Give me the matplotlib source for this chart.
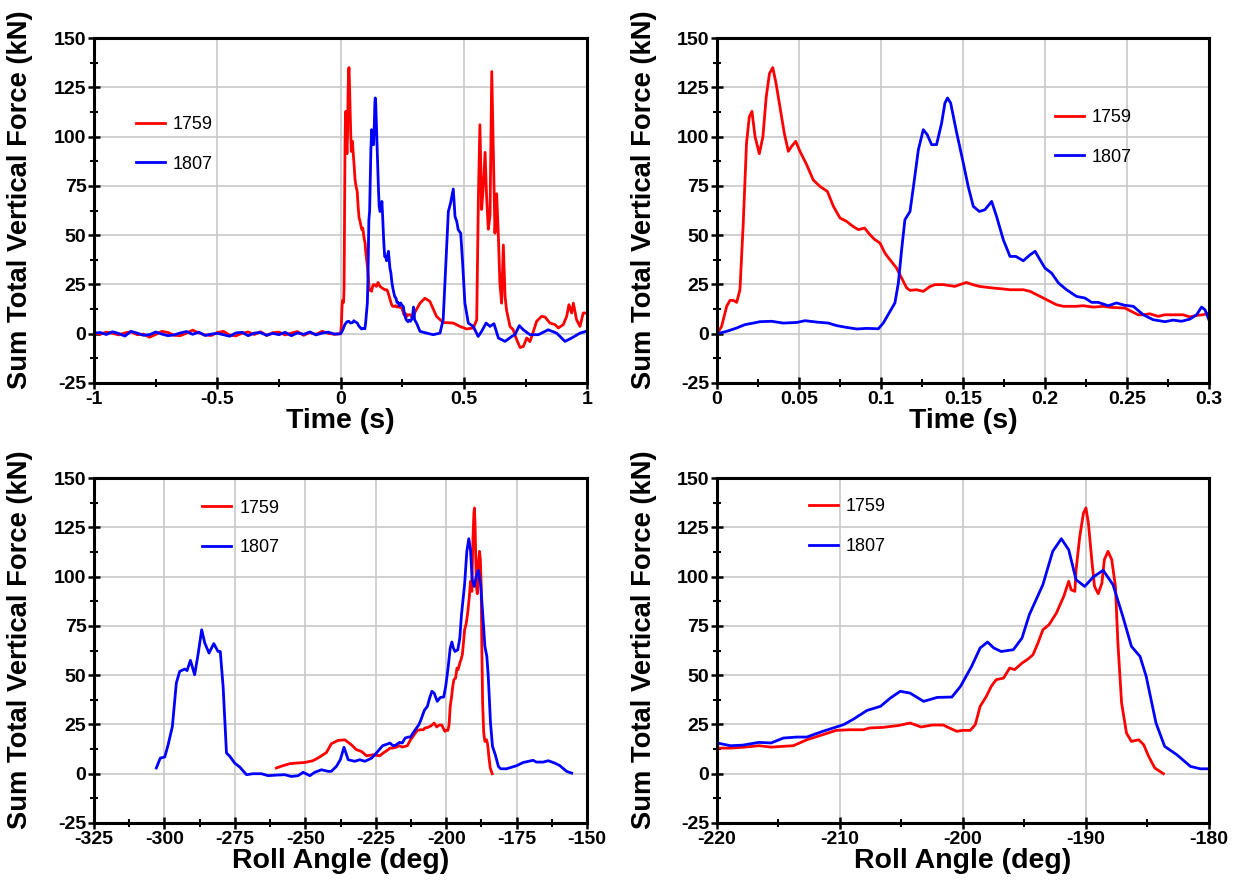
import matplotlib
matplotlib.use("Agg")
import matplotlib.pyplot as plt
from matplotlib.ticker import MultipleLocator

plt.rcParams['font.family'] = ['Liberation Sans', 'DejaVu Sans']
plt.rcParams['font.weight'] = 'bold'
plt.rcParams['axes.unicode_minus'] = False

# ---- time history, pre-trigger noise (-1 .. 0 s) ----
t_pre = [-1.0, -0.975, -0.95, -0.925, -0.9, -0.875, -0.85, -0.825, -0.8, -0.775,
         -0.75, -0.725, -0.7, -0.675, -0.65, -0.625, -0.6, -0.575, -0.55, -0.525,
         -0.5, -0.475, -0.45, -0.425, -0.4, -0.375, -0.35, -0.325, -0.3, -0.275,
         -0.25, -0.225, -0.2, -0.175, -0.15, -0.125, -0.1, -0.075, -0.05, -0.025, 0.0]
f1759_pre = [0.5, -0.3, 0.8, 0.2, -0.6, 0.4, 1.0, -0.5, -0.2, -1.8,
             -0.4, 1.2, 0.6, -0.8, -1.0, 0.3, 1.8, 0.4, -0.6, -0.9,
             0.6, 1.2, -0.7, -1.1, 0.2, 0.9, -0.4, 1.0, -0.9, 0.5,
             0.8, -0.6, 0.3, 1.1, -0.8, 0.6, -0.4, 1.2, 0.2, -0.3, 0.0]
f1807_pre = [0.3, 0.6, -0.4, 1.0, 0.1, -1.2, 1.2, 0.3, -0.8, -0.5,
             0.9, -0.2, -1.0, -0.6, 0.4, 1.1, -0.3, 0.8, -0.9, -0.2,
             0.2, -0.5, -1.3, 0.4, 0.7, -1.0, 0.3, 0.6, -0.8, 0.2,
             -0.5, 0.7, -1.0, 0.4, -0.3, 0.9, -0.6, 0.3, 0.8, -0.2, 0.0]

# ---- time history 0 .. 0.3 s (detail window) ----
t_1759 = [0.0, 0.0028, 0.0059, 0.0079, 0.010, 0.012, 0.014, 0.016, 0.018, 0.0197,
          0.0213, 0.0232, 0.0258, 0.028, 0.030, 0.032, 0.034, 0.036, 0.038, 0.041,
          0.0435, 0.0455, 0.048, 0.0506, 0.0547, 0.0587, 0.0628, 0.0673, 0.071, 0.075,
          0.079, 0.083, 0.0862, 0.090, 0.0933, 0.0963, 0.0994, 0.1024, 0.1055, 0.1095,
          0.1126, 0.1157, 0.1177, 0.1217, 0.1258, 0.130, 0.133, 0.138, 0.145, 0.152,
          0.156, 0.160, 0.168, 0.1745, 0.1787, 0.1868, 0.1909, 0.195, 0.199, 0.203,
          0.207, 0.2112, 0.219, 0.2233, 0.2295, 0.2356, 0.2396, 0.2488, 0.2528, 0.2569,
          0.260, 0.264, 0.269, 0.273, 0.280, 0.2843, 0.2884, 0.2925, 0.2965, 0.300]
f_1759 = [0.0, 3.7, 13.9, 16.9, 16.9, 15.9, 22.3, 56.0, 96.7, 110.0,
          112.8, 100.0, 91.3, 100.0, 120.0, 132.0, 135.0, 127.0, 117.0, 101.8,
          92.5, 95.0, 97.6, 92.5, 85.7, 78.0, 74.7, 72.2, 64.6, 58.7,
          57.0, 54.4, 52.8, 53.6, 50.2, 47.7, 46.0, 40.9, 37.5, 33.3,
          28.2, 23.2, 22.0, 22.3, 21.5, 24.0, 24.9, 24.9, 24.0, 26.0,
          24.9, 24.0, 23.2, 22.7, 22.3, 22.3, 21.5, 19.8, 18.1, 16.4,
          14.7, 13.9, 13.9, 14.2, 13.5, 13.9, 13.4, 13.0, 11.3, 9.6,
          9.6, 10.1, 8.8, 9.6, 9.6, 9.6, 8.5, 9.3, 9.6, 10.5]

t_1807 = [0.0, 0.0059, 0.012, 0.017, 0.0222, 0.0262, 0.0333, 0.0404, 0.0486, 0.0537,
          0.0608, 0.0679, 0.073, 0.079, 0.0852, 0.0913, 0.0984, 0.1014, 0.1055, 0.1085,
          0.1106, 0.1126, 0.1146, 0.1177, 0.1201, 0.1228, 0.1258, 0.1282, 0.1309, 0.1339,
          0.137, 0.139, 0.1406, 0.1425, 0.146, 0.1502, 0.1532, 0.1563, 0.160, 0.1634,
          0.1675, 0.1705, 0.1746, 0.1787, 0.1823, 0.1868, 0.1909, 0.194, 0.197, 0.200,
          0.204, 0.2083, 0.2132, 0.2193, 0.2244, 0.2285, 0.2325, 0.2386, 0.2437, 0.2488,
          0.2539, 0.260, 0.266, 0.2732, 0.2782, 0.2833, 0.2884, 0.2925, 0.2955, 0.2976, 0.300]
f_1807 = [0.0, 1.2, 2.9, 4.6, 5.4, 6.1, 6.3, 5.4, 5.7, 6.6,
          5.9, 5.4, 4.1, 3.2, 2.4, 2.7, 2.5, 5.4, 11.3, 15.6,
          25.7, 42.6, 57.8, 62.0, 76.4, 93.3, 103.5, 101.0, 95.9, 95.9,
          106.9, 117.0, 119.6, 117.0, 102.6, 86.6, 74.7, 64.6, 62.0, 62.9,
          67.1, 59.5, 47.7, 39.2, 39.2, 37.0, 40.0, 41.8, 37.5, 33.3,
          30.8, 25.7, 22.3, 18.9, 18.1, 15.9, 15.9, 14.2, 15.6, 14.4,
          13.9, 9.6, 7.1, 6.1, 6.9, 6.3, 7.4, 9.6, 13.5, 12.2, 7.1]

# ---- time history after 0.3 s ----
t_1759_post = [0.302, 0.322, 0.342, 0.362, 0.389, 0.416, 0.457, 0.484, 0.511, 0.538,
               0.552, 0.559, 0.565, 0.572, 0.579, 0.586, 0.592, 0.599, 0.606, 0.613,
               0.619, 0.626, 0.633, 0.640, 0.646, 0.653, 0.660, 0.667, 0.673, 0.687,
               0.700, 0.714, 0.728, 0.741, 0.755, 0.768, 0.782, 0.795, 0.815, 0.829,
               0.849, 0.870, 0.883, 0.903, 0.917, 0.926, 0.937, 0.944, 0.957, 0.971,
               0.984, 0.995]
f_1759_post = [11.0, 15.5, 18.0, 16.4, 8.8, 5.7, 5.4, 3.7, 2.4, 2.9,
               7.0, 70.0, 106.0, 63.0, 75.0, 92.0, 70.0, 53.0, 60.0, 133.0,
               95.0, 51.0, 71.0, 49.0, 25.7, 15.5, 45.0, 19.0, 12.0, 3.7,
               2.0, -3.0, -7.0, -6.5, -2.2, -4.0, 1.2, 6.3, 8.8, 8.5,
               5.4, 4.6, 2.9, 4.6, 8.8, 14.7, 10.5, 15.5, 7.1, 3.7,
               10.5, 10.5]
t_1807_post = [0.308, 0.322, 0.349, 0.376, 0.403, 0.416, 0.427, 0.437, 0.446, 0.457,
               0.464, 0.471, 0.477, 0.487, 0.495, 0.504, 0.518, 0.538, 0.558, 0.572,
               0.590, 0.606, 0.622, 0.640, 0.667, 0.694, 0.707, 0.725, 0.741, 0.768,
               0.802, 0.842, 0.876, 0.910, 0.937, 0.971, 0.995]
f_1807_post = [5.4, 1.2, 0.3, -0.5, 0.3, 7.1, 35.9, 62.0, 66.3, 73.4,
               59.5, 57.0, 52.8, 51.0, 35.9, 15.6, 5.4, 3.7, -1.4, 1.2,
               5.4, 3.7, 5.1, -2.2, -3.9, -1.4, -0.5, 4.1, 2.0, -0.5,
               -0.5, 2.0, 0.3, -3.9, -2.2, 0.3, 1.2]

# ---- roll angle, detail window -220 .. -180 deg ----
a_1759 = [-220.0, -218.9, -217.9, -216.6, -215.6, -214.6, -213.8, -212.7, -211.4, -210.3,
          -209.2, -208.1, -207.6, -206.5, -205.3, -204.3, -203.4, -202.5, -201.6, -201.1,
          -200.5, -200.0, -199.4, -199.0, -198.6, -198.1, -197.7, -197.3, -196.7, -196.2,
          -195.8, -195.2, -194.7, -194.3, -193.9, -193.5, -193.0, -192.4, -191.8, -191.4,
          -191.2, -190.9, -190.8, -190.5, -190.2, -190.0, -189.8, -189.5, -189.3, -189.0,
          -188.7, -188.5, -188.2, -187.9, -187.6, -187.4, -187.1, -186.7, -186.3, -185.7,
          -185.3, -184.9, -184.4, -183.7]
fa_1759 = [13.0, 13.0, 13.4, 14.2, 13.5, 13.9, 14.2, 17.2, 19.8, 22.0,
           22.3, 22.3, 23.2, 23.5, 24.4, 25.7, 23.7, 24.7, 24.7, 23.2,
           21.5, 22.0, 22.0, 24.9, 34.2, 39.2, 44.3, 47.7, 48.5, 53.6,
           52.8, 56.1, 58.2, 60.4, 66.3, 73.0, 75.6, 81.5, 90.0, 97.6,
           93.3, 92.5, 103.5, 120.4, 132.2, 134.8, 127.2, 106.9, 95.0, 91.3,
           96.7, 108.6, 112.8, 108.6, 95.0, 66.3, 35.9, 20.6, 16.4, 17.2,
           14.7, 8.8, 2.9, 0.0]

a_1807 = [-220.0, -218.9, -217.9, -216.6, -215.6, -214.6, -213.5, -212.7, -211.4, -209.7,
          -208.9, -207.8, -206.7, -205.9, -205.1, -204.3, -203.2, -202.1, -200.9, -200.2,
          -199.3, -198.6, -198.0, -197.5, -196.9, -195.9, -195.2, -194.6, -193.5, -192.7,
          -192.0, -191.4, -190.8, -190.1, -189.4, -188.6, -187.8, -187.0, -186.3, -185.6,
          -185.1, -184.3, -183.6, -182.6, -181.5, -180.7, -180.0]
fa_1807 = [15.6, 14.2, 14.5, 15.9, 15.6, 18.1, 18.6, 18.6, 21.5, 24.9,
           27.7, 32.1, 34.2, 38.4, 41.8, 40.9, 36.7, 38.7, 38.9, 44.3,
           54.4, 63.8, 66.8, 63.8, 62.0, 62.9, 68.8, 80.7, 95.9, 112.8,
           119.2, 113.6, 98.4, 95.0, 99.8, 103.2, 95.9, 79.8, 64.6, 59.5,
           49.4, 25.7, 13.9, 9.6, 3.7, 2.5, 2.5]

# ---- roll angle outside the detail window ----
a_1759_pre = [-260.3, -257.9, -255.5, -253.2, -250.2, -247.3, -244.9, -242.5, -240.8, -238.4,
              -236.0, -233.7, -231.9, -230.1, -228.3, -226.0, -223.6, -222.4, -220.6]
fa_1759_pre = [2.9, 4.1, 5.1, 5.4, 5.7, 6.6, 8.5, 10.8, 15.2, 16.9,
               17.2, 14.7, 12.2, 11.3, 9.1, 9.6, 9.1, 10.5, 12.2]

a_1807_pre = [-302.9, -301.5, -299.9, -298.7, -297.2, -295.8, -294.6, -292.8, -292.0, -290.8,
              -289.3, -288.1, -286.8, -285.7, -284.2, -282.5, -281.0, -280.2, -279.2, -278.0,
              -276.8, -275.1, -273.3, -270.9, -268.6, -265.6, -263.2, -260.3, -257.3, -255.0,
              -252.6, -250.8, -248.4, -246.7, -244.3, -241.9, -240.8, -239.0, -237.6, -236.3,
              -234.8, -232.5, -230.7, -228.9, -226.5, -224.8, -222.6, -220.6]
fa_1807_pre = [2.9, 7.9, 8.5, 14.7, 24.0, 46.0, 51.9, 53.1, 52.3, 57.5,
               50.2, 60.4, 73.0, 66.3, 61.2, 66.0, 62.0, 62.0, 44.3, 10.5,
               8.8, 5.4, 3.4, -0.5, 0.0, 0.0, -1.0, -0.7, -0.5, -1.4,
               -1.0, 0.7, -1.0, 0.7, 2.0, 1.2, 1.2, 3.7, 7.1, 13.4,
               7.1, 6.3, 7.1, 6.3, 7.9, 10.5, 14.2, 15.2]
a_1807_post = [-178.6, -175.0, -172.7, -169.2, -168.0, -165.6, -163.8, -161.5, -159.7, -157.3, -155.5]
fa_1807_post = [2.5, 4.1, 5.7, 6.8, 5.9, 5.9, 6.6, 5.4, 4.1, 1.2, 0.3]

# full series
t1759_all = t_pre + t_1759[1:] + t_1759_post
f1759_all = f1759_pre + f_1759[1:] + f_1759_post
t1807_all = t_pre + t_1807[1:] + t_1807_post
f1807_all = f1807_pre + f_1807[1:] + f_1807_post
a1759_all = a_1759_pre + a_1759
fa1759_all = fa_1759_pre + fa_1759
a1807_all = a_1807_pre + a_1807 + a_1807_post
fa1807_all = fa_1807_pre + fa_1807 + fa_1807_post

RED = '#ff0000'
BLUE = '#0000ff'
YLABEL = 'Sum Total Vertical Force (kN)'

fig = plt.figure(figsize=(12.39, 8.88), dpi=100)
h = 0.3885
ax1 = fig.add_axes([0.0759, 0.5687, 0.398, h])
ax2 = fig.add_axes([0.5787, 0.5687, 0.397, h])
ax3 = fig.add_axes([0.0759, 0.0732, 0.398, h])
ax4 = fig.add_axes([0.5787, 0.0732, 0.397, h])


def fmt(v, pos):
    return '%g' % v


def style(ax, xlim, xmajor, xminor, xlabel):
    ax.set_xlim(xlim)
    ax.set_ylim(-25, 150)
    ax.xaxis.set_major_locator(MultipleLocator(xmajor))
    ax.xaxis.set_minor_locator(MultipleLocator(xminor))
    ax.yaxis.set_major_locator(MultipleLocator(25))
    ax.yaxis.set_minor_locator(MultipleLocator(12.5))
    ax.xaxis.set_major_formatter(plt.FuncFormatter(fmt))
    ax.grid(True, which='major', color='#c8c8c8', linewidth=1.2)
    ax.set_axisbelow(True)
    for s in ax.spines.values():
        s.set_linewidth(2.2)
    ax.tick_params(which='major', direction='inout', length=9, width=1.8,
                   labelsize=14, pad=1)
    ax.tick_params(which='minor', direction='inout', length=6, width=1.5)
    ax.set_xlabel(xlabel, fontsize=20.5, fontweight='bold', labelpad=0)
    ax.set_ylabel(YLABEL, fontsize=19.7, fontweight='bold')
    ax.yaxis.set_label_coords(-0.123, 0.53)


def legend(ax, x, y):
    ax.legend(loc='upper left', bbox_to_anchor=(x, y), frameon=False,
              prop={'size': 13, 'weight': 'normal'}, handlelength=1.6,
              handletextpad=0.45, labelspacing=1.25, borderaxespad=0)


# top left: full time history
ax1.plot(t1759_all, f1759_all, color=RED, lw=2, label='1759')
ax1.plot(t1807_all, f1807_all, color=BLUE, lw=2, label='1807')
style(ax1, (-1, 1), 0.5, 0.25, 'Time (s)')
legend(ax1, 0.07, 0.795)

# top right: zoom 0 .. 0.3 s
ax2.plot(t_1759, f_1759, color=RED, lw=2, label='1759')
ax2.plot(t_1807, f_1807, color=BLUE, lw=2, label='1807')
style(ax2, (0, 0.3), 0.05, 0.025, 'Time (s)')
legend(ax2, 0.672, 0.815)

# bottom left: roll angle
ax3.plot(a1759_all, fa1759_all, color=RED, lw=2, label='1759')
ax3.plot(a1807_all, fa1807_all, color=BLUE, lw=2, label='1807')
style(ax3, (-325, -150), 25, 12.5, 'Roll Angle (deg)')
legend(ax3, 0.205, 0.958)

# bottom right: roll angle zoom
ax4.plot(a_1759, fa_1759, color=RED, lw=2, label='1759')
ax4.plot(a_1807, fa_1807, color=BLUE, lw=2, label='1807')
style(ax4, (-220, -180), 10, 5, 'Roll Angle (deg)')
legend(ax4, 0.172, 0.962)

fig.savefig('out.png', dpi=100)
